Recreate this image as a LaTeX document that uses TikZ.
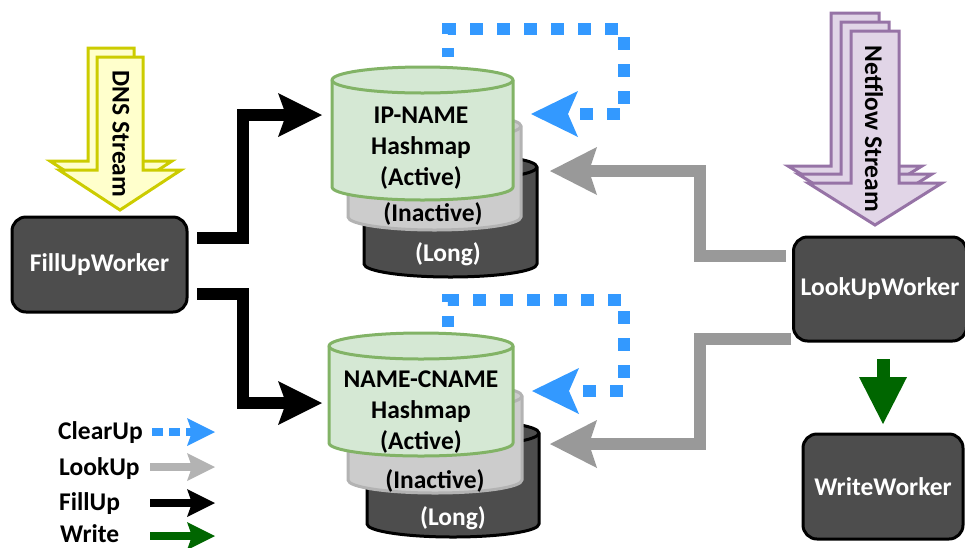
\documentclass[tikz,border=0pt]{standalone}
\usepackage{fontspec}
\setmainfont{Carlito}
\usetikzlibrary{arrows.meta}
\definecolor{blueA}{HTML}{3399FF}
\definecolor{grayA}{HTML}{999999}
\definecolor{grayL}{HTML}{B3B3B3}
\definecolor{greenA}{HTML}{006600}
\definecolor{darkbox}{HTML}{4D4D4D}
\definecolor{actfill}{HTML}{D5E8D4}
\definecolor{actdraw}{HTML}{82B366}
\definecolor{inafill}{HTML}{CCCCCC}
\definecolor{inadraw}{HTML}{B3B3B3}
\definecolor{dnsfill}{HTML}{FFFFCC}
\definecolor{dnsdraw}{HTML}{CCCC00}
\definecolor{nffill}{HTML}{E1D5E7}
\definecolor{nfdraw}{HTML}{9673A6}
% L R ytop ybottom ry fill draw
\newcommand\mycyl[7]{%
  \pgfmathsetmacro\cylrx{(#2-#1)/2}%
  \filldraw[fill=#6,draw=#7,line width=3pt,line join=round]
    (#1,#4) -- (#1,#3) arc[start angle=180,end angle=0,x radius=\cylrx pt,y radius=#5pt]
    -- (#2,#4) arc[start angle=0,end angle=-180,x radius=\cylrx pt,y radius=#5pt] -- cycle;
  \draw[draw=#7,line width=3pt] (#1,#3) arc[start angle=180,end angle=360,x radius=\cylrx pt,y radius=#5pt];
}
% stream arrow: cx shafthalf top base headhalf tip fill draw
\newcommand\streamarrow[8]{%
  \filldraw[fill=#7,draw=#8,line width=3pt,line join=miter]
    ({#1-#2},#3) -- ({#1+#2},#3) -- ({#1+#2},#4) -- ({#1+#5},#4) -- (#1,#6)
    -- ({#1-#5},#4) -- ({#1-#2},#4) -- cycle;
}
\tikzset{
  txt/.style={font=\bfseries\fontsize{25.5}{31}\selectfont,inner sep=0pt},
  worker/.style={txt,draw=black,line width=3pt,fill=darkbox,rounded corners=14pt,text=white},
  cyltext/.style={txt,align=center},
  fillarrow/.style={draw=black,line width=12pt,line join=miter,
    -{Stealth[length=44pt,width=44pt,inset=8pt,line width=0pt]}},
  lookarrow/.style={draw=grayA,line width=12.5pt,line join=miter,
    -{Stealth[length=47pt,width=48pt,inset=8pt,line width=0pt]}},
  cleararrow/.style={draw=blueA,line width=12pt,line join=miter,dash pattern=on 13pt off 14pt,
    -{Stealth[length=47pt,width=46pt,inset=10pt,line width=0pt]}},
  writearrow/.style={draw=greenA,line width=13pt,
    -{Stealth[length=47pt,width=48pt,inset=0pt,line width=0pt]}},
  legarrow/.style={line width=7.5pt,-{Stealth[length=28pt,width=28pt,inset=5pt,line width=0pt]}},
}
\begin{document}
\begin{tikzpicture}[x=1pt,y=-1pt]
\useasboundingbox (0,0) rectangle (965,547);

% ---- streams
\streamarrow{111}{23}{48}{161}{61}{201}{dnsfill}{dnsdraw}
\streamarrow{120}{23}{57}{170}{61}{210}{dnsfill}{dnsdraw}
\node[txt,rotate=-90] (dns) at (121,134) {DNS Stream};

\streamarrow{855}{24}{13}{166}{67}{207}{nffill}{nfdraw}
\streamarrow{865}{24}{22}{174}{67}{216}{nffill}{nfdraw}
\streamarrow{875}{24}{31}{183}{67}{225}{nffill}{nfdraw}
\node[txt,rotate=-90] (nf) at (874,129) {Netflow Stream};

% ---- workers
\node[worker,minimum width=175pt,minimum height=95pt] (fu) at (99.5,264.5) {FillUpWorker};
\node[worker,minimum width=173pt,minimum height=104pt] (lu) at (880,289) {LookUpWorker};
\node[worker,minimum width=160pt,minimum height=105pt] (ww) at (883,486.5) {WriteWorker};

% ---- top hashmap group
\mycyl{364}{537}{167}{264}{13}{darkbox}{black}
\mycyl{348}{521}{126}{217}{13}{inafill}{inadraw}
\mycyl{332}{513}{80}{187}{13}{actfill}{actdraw}
\node[cyltext] (ipname) at (421,148) {IP-NAME\\Hashmap\\(Active)};
\node[txt] (ipinact) at (433,214) {(Inactive)};
\node[txt,text=white] (iplong) at (448,254) {(Long)};

% ---- bottom hashmap group
\mycyl{367}{539}{433}{524}{13}{darkbox}{black}
\mycyl{348}{522}{396}{480}{13}{inafill}{inadraw}
\mycyl{329}{513}{346}{443}{13}{actfill}{actdraw}
\node[cyltext] (ncname) at (421,412) {NAME-CNAME\\Hashmap\\(Active)};
\node[txt] (ncinact) at (435,481) {(Inactive)};
\node[txt,text=white] (nclong) at (453,518) {(Long)};

% ---- connector end points
\coordinate (fuA) at (197,238);
\coordinate (fuB) at (197,294);
\coordinate (ipIn) at (322,115);
\coordinate (ncIn) at (322,403);
\coordinate (luA) at (786,256);
\coordinate (luB) at (791,339);
\coordinate (ipLook) at (550,171);
\coordinate (ncLook) at (550,444);
\coordinate (ipClrS) at (448,57);
\coordinate (ipClrE) at (531,114);
\coordinate (ncClrS) at (448,327);
\coordinate (ncClrE) at (532,391);
\coordinate (luW) at (883,359);
\coordinate (wwIn) at (883,424);

% ---- FillUp
\draw[fillarrow] (fuA) -- (243,238) -- (243,115) -- (ipIn);
\draw[fillarrow] (fuB) -- (243,294) -- (243,403) -- (ncIn);
% ---- LookUp
\draw[lookarrow] (luA) -- (700,256) -- (700,171) -- (ipLook);
\draw[lookarrow] (luB) -- (700,339) -- (700,444) -- (ncLook);
% ---- ClearUp
\draw[cleararrow,dash phase=4pt] (ipClrS) -- (448,29) -- (624,29) -- (624,114) -- (ipClrE);
\draw[cleararrow,dash phase=2pt] (ncClrS) -- (448,300) -- (624,300) -- (624,391) -- (ncClrE);
% ---- Write
\draw[writearrow] (luW) -- (wwIn);

% ---- legend
\node[txt,anchor=base west] (lgC) at (58,439) {ClearUp};
\node[txt,anchor=base west] (lgL) at (59,475) {LookUp};
\node[txt,anchor=base west] (lgF) at (59,510) {FillUp};
\node[txt,anchor=base west] (lgW) at (60,542) {Write};
\coordinate (lgCa) at (152,432); \coordinate (lgCb) at (215,432);
\coordinate (lgLa) at (150,467); \coordinate (lgLb) at (215,467);
\coordinate (lgFa) at (150,503); \coordinate (lgFb) at (215,503);
\coordinate (lgWa) at (150,536); \coordinate (lgWb) at (215,536);
\draw[legarrow,draw=blueA,dash pattern=on 11pt off 6pt] (lgCa) -- (lgCb);
\draw[legarrow,draw=grayL] (lgLa) -- (lgLb);
\draw[legarrow,draw=black] (lgFa) -- (lgFb);
\draw[legarrow,draw=greenA] (lgWa) -- (lgWb);
\end{tikzpicture}
\end{document}
